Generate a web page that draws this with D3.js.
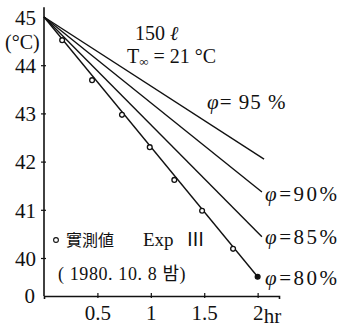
<!DOCTYPE html>
<html>
<head>
<meta charset="utf-8">
<script src="https://cdn.jsdelivr.net/npm/d3@7"></script>
<style>
  html, body { margin: 0; padding: 0; background: #fff; }
  svg text { font-family: "Liberation Serif", "Noto Sans CJK KR", serif; fill: #111; }
</style>
</head>
<body>
<div id="chart"></div>
<script>
// humidity curves: straight cooling lines from 45 °C at t=0
const humidity = ['95', '90', '85', '80'];
const startTemp = 45;
const lineEndTime = [2.06, 2.04, 2.04, 2.0];
const lineEndTemp = [42.05, 41.37, 40.44, 39.61];

// measured values (Exp III)
const obsTime = [0.17, 0.45, 0.73, 0.99, 1.22, 1.48, 1.77, 2.0];
const obsTemp = [44.52, 43.69, 42.97, 42.30, 41.62, 40.98, 40.19, 39.61];

const yTicks = [40, 41, 42, 43, 44, 45];
const xTicks = [0.5, 1, 1.5, 2];

const W = 353, H = 327;
const x = d3.scaleLinear().domain([0, 2.2]).range([44, 279]);
const y = d3.scaleLinear().domain([40, 45]).range([258, 17]);
const baseY = 296; // broken axis: "0" sits on the time axis

const svg = d3.select('#chart').append('svg').attr('width', W).attr('height', H);

// y axis (drawn down to the time axis)
svg.append('line')
  .attr('x1', x(0)).attr('x2', x(0))
  .attr('y1', y(45.2)).attr('y2', baseY)
  .attr('stroke', '#111').attr('stroke-width', 1.6);

const yAxis = svg.append('g')
  .attr('transform', `translate(${x(0)},0)`)
  .call(d3.axisLeft(y).tickValues(yTicks).tickFormat(d3.format('d')).tickSize(3).tickPadding(5))
  .call((a) => a.select('.domain').remove())
  .call((a) => a.selectAll('line').attr('x1', -3).attr('x2', 2).attr('stroke', '#111').attr('stroke-width', 1.2))
  .call((a) => a.selectAll('text').style('font-size', '21px').attr('fill', '#111').attr('dy', '0.35em'));
yAxis.selectAll('.tick').filter((d) => d === 45).select('line').remove();

svg.append('text')
  .attr('x', x(0) - 9).attr('y', baseY + 7)
  .attr('text-anchor', 'end')
  .style('font-size', '21px')
  .text('0');

svg.append('text')
  .attr('x', 5).attr('y', 49)
  .style('font-size', '20px')
  .text('(°C)');

// time axis
svg.append('g')
  .attr('transform', `translate(0,${baseY})`)
  .call(d3.axisBottom(x).tickValues(xTicks).tickFormat((d) => d === 2 ? '2' : d).tickSizeOuter(0).tickSize(3).tickPadding(6))
  .call((a) => a.select('.domain').attr('stroke', '#111').attr('stroke-width', 1.6))
  .call((a) => a.selectAll('.tick line').attr('y1', -3).attr('y2', 2).attr('stroke', '#111').attr('stroke-width', 1.2))
  .call((a) => a.selectAll('.tick text').style('font-size', '21px').attr('fill', '#111'));

svg.append('text')
  .attr('x', x(2) + 6).attr('y', baseY + 27)
  .style('font-size', '21px')
  .text('hr');

// model lines
const lines = humidity.map((h, i) => ({
  h,
  pts: [[0, startTemp], [lineEndTime[i], lineEndTemp[i]]]
}));
const lineGen = d3.line().x((d) => x(d[0])).y((d) => y(d[1]));
svg.selectAll('path.curve')
  .data(lines)
  .join('path')
  .attr('class', 'curve')
  .attr('d', (d) => lineGen(d.pts))
  .attr('fill', 'none')
  .attr('stroke', '#111')
  .attr('stroke-width', 1.4);

// humidity labels
const labelPos = [[207, 109], [265, 201], [265, 244], [265, 285]];
const lab = svg.selectAll('text.phi')
  .data(lines)
  .join('text')
  .attr('class', 'phi')
  .attr('x', (d, i) => labelPos[i][0])
  .attr('y', (d, i) => labelPos[i][1])
  .style('font-size', '21px')
  .style('letter-spacing', (d, i) => i === 0 ? '1px' : '2.5px');
lab.append('tspan').style('font-style', 'italic').text('φ');
lab.append('tspan').text((d) => d.h === '95' ? '= 95 %' : `=${d.h}%`);

// observed points
svg.selectAll('circle.obs')
  .data(obsTime.map((t, i) => [t, obsTemp[i]]))
  .join('circle')
  .attr('class', 'obs')
  .attr('cx', (d) => x(d[0]))
  .attr('cy', (d) => y(d[1]))
  .attr('r', 2.4)
  .attr('fill', (d, i) => i === obsTime.length - 1 ? '#111' : '#fff')
  .attr('stroke', '#111')
  .attr('stroke-width', 1.3);

// annotations
svg.append('text').attr('x', 135).attr('y', 40).style('font-size', '20px')
  .text('150 ').append('tspan').style('font-style', 'italic').text('ℓ');

const tInf = svg.append('text').attr('x', 127).attr('y', 63).style('font-size', '20px');
tInf.append('tspan').text('T');
tInf.append('tspan').attr('dy', 3).style('font-size', '13px').text('∞');
tInf.append('tspan').attr('dy', -3).text(' = 21 °C');

svg.append('circle').attr('cx', 56).attr('cy', 240).attr('r', 2.4)
  .attr('fill', 'none').attr('stroke', '#111').attr('stroke-width', 1.1);
svg.append('text').attr('x', 66).attr('y', 246).style('font-size', '16px')
  .text('實測値');
svg.append('text').attr('x', 143).attr('y', 246).style('font-size', '19px')
  .text('Exp');
svg.append('text').attr('x', 186).attr('y', 246).style('font-size', '19px')
  .style('letter-spacing', '1px')
  .text('Ⅲ');
svg.append('text').attr('x', 58).attr('y', 280).style('font-size', '18px')
  .style('letter-spacing', '0.6px')
  .text('( 1980. 10. 8 밤)');
</script>
</body>
</html>
